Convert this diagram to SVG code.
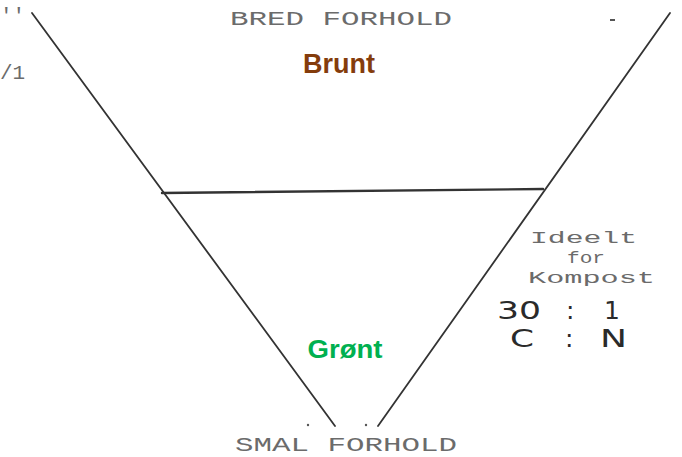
<svg xmlns="http://www.w3.org/2000/svg" width="682" height="457" viewBox="0 0 682 457">
<style>
.typed{font-family:"Liberation Mono","DejaVu Sans Mono",monospace;fill:#6b6b6b;font-size:21px;}
.small{font-size:17px;}
.hand{font-family:"DejaVu Sans","Liberation Sans",sans-serif;fill:#2a2a2a;font-size:25px;}
.ln{stroke:#333;stroke-width:1.8;fill:none;stroke-linecap:round;}
.lbl{font-family:"Liberation Sans","Open Sans",sans-serif;font-weight:bold;text-anchor:middle;}
</style>
<rect width="682" height="457" fill="#fff"/>
<g id="funnel">
<line class="ln" x1="32" y1="13" x2="335" y2="426"/>
<line class="ln" x1="670" y1="13" x2="378" y2="426"/>
<line class="ln" x1="162" y1="193" x2="543" y2="189" style="stroke-width:2.4"/>
</g>
<g id="top-label">
<text class="typed" x="230" y="25" textLength="222" lengthAdjust="spacingAndGlyphs">BRED FORHOLD</text>
</g>
<g id="bottom-label">
<text class="typed" x="235" y="451" textLength="222" lengthAdjust="spacingAndGlyphs">SMAL FORHOLD</text>
</g>
<g id="brunt">
<text class="lbl" x="339" y="73" font-size="27" fill="#843C0C">Brunt</text>
</g>
<g id="gront">
<text class="lbl" x="345" y="358" font-size="26" fill="#00B050" textLength="75" lengthAdjust="spacingAndGlyphs">Grønt</text>
</g>
<g id="ideelt">
<text class="typed small" x="530" y="243" textLength="107" lengthAdjust="spacingAndGlyphs">Ideelt</text>
<text class="typed small" x="567" y="263" textLength="38" lengthAdjust="spacingAndGlyphs">for</text>
<text class="typed small" x="528" y="283" textLength="127" lengthAdjust="spacingAndGlyphs">Kompost</text>
<text class="hand" x="497" y="319" textLength="44" lengthAdjust="spacingAndGlyphs">30</text>
<text class="hand" x="566" y="319">:</text>
<text class="hand" x="604" y="319">1</text>
<text class="hand" x="510" y="347" textLength="24" lengthAdjust="spacingAndGlyphs">C</text>
<text class="hand" x="565" y="347">:</text>
<text class="hand" x="600" y="347" textLength="27" lengthAdjust="spacingAndGlyphs">N</text>
</g>
<g id="margin">
<text class="typed" x="0" y="79" font-size="20">/1</text>
<text class="typed" x="0" y="22" font-size="18">''</text>
<rect x="610" y="19" width="5" height="2" fill="#555"/>
<circle cx="308" cy="425" r="1.2" fill="#555"/>
<circle cx="366" cy="425" r="1.2" fill="#555"/>
</g>
</svg>
